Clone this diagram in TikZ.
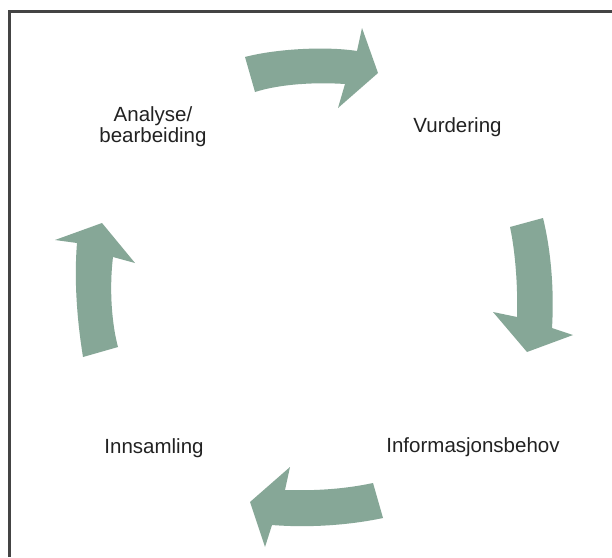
\documentclass[tikz,border=0pt]{standalone}
\usepackage{fontspec}
\setmainfont{Liberation Sans}
\definecolor{arrowgreen}{HTML}{86A797}
\definecolor{textdark}{HTML}{222222}
\definecolor{framegray}{HTML}{444444}
\begin{document}
\begin{tikzpicture}[x=1pt,y=-1pt,
  blockarrow/.style={fill=arrowgreen,draw=none},
  lbl/.style={font=\fontsize{20.5}{18}\selectfont,text=textdark,inner sep=0pt,align=center},
  frameline/.style={draw=framegray,line width=2.5pt}]
\useasboundingbox (0,0) rectangle (612,557);
\fill[white] (0,0) rectangle (612,557);
\draw[frameline] (9.7,557) -- (9.7,11.7) -- (612,11.7);
% top arrow
\fill[blockarrow] (245,57) .. controls (275,49) and (325,46) .. (357,51)
  -- (362,28) -- (378,73) -- (338,108) -- (345,84)
  .. controls (315,82) and (280,84) .. (255,92) -- cycle;
% right arrow
\fill[blockarrow] (510,227) -- (543,218) .. controls (552,255) and (554,295) .. (552,328)
  -- (573,335) -- (527,352) -- (493,312) -- (517,317)
  .. controls (518,285) and (515,250) .. (510,227) -- cycle;
% bottom arrow
\fill[blockarrow] (373,483) .. controls (345,489) and (315,491) .. (285,490)
  -- (290,467) -- (250,502) -- (265,547) -- (272,525)
  .. controls (310,528) and (350,525) .. (383,518) -- cycle;
% left arrow
\fill[blockarrow] (83,357) .. controls (77,320) and (74,280) .. (77,243)
  -- (55,240) -- (102,223) -- (135,263) -- (113,257)
  .. controls (109,290) and (112,325) .. (118,347) -- cycle;
% labels
\node[lbl,anchor=base] (analyse) at (153,142) {Analyse/\\bearbeiding};
\node[lbl,anchor=base] (vurdering) at (457.5,132) {Vurdering};
\node[lbl,anchor=base] (innsamling) at (154,453) {Innsamling};
\node[lbl,anchor=base] (info) at (473,452) {Informasjonsbehov};
\end{tikzpicture}
\end{document}
